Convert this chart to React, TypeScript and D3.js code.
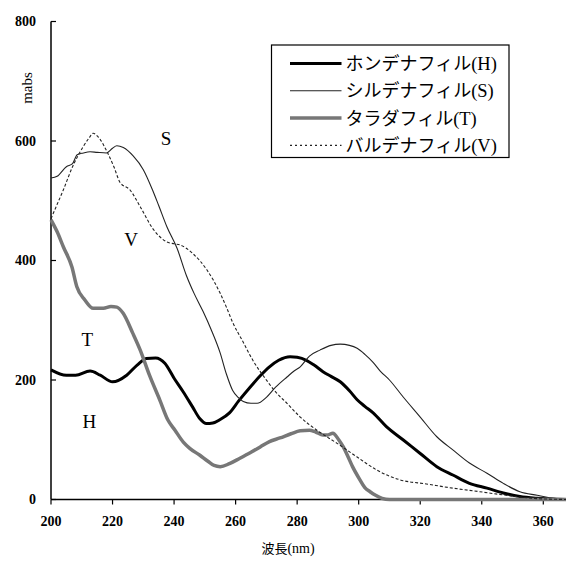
import React, { useRef, useEffect } from 'react';
import * as d3 from 'd3';

// wavelength (nm), absorbance (mabs) pairs
const HONDENAFIL: [number, number][] = [
  [200, 217], [205, 208], [208, 208], [212.7, 215], [216, 208], [220, 197], [224.6, 208],
  [228, 225], [231, 236], [234, 237], [237, 228], [240, 203], [243, 180], [246, 155],
  [248.4, 135], [250.5, 127], [252.6, 128], [255, 134], [258, 145], [261, 165], [264.7, 188],
  [268, 207], [271, 222], [274, 233], [277.7, 239], [280, 238], [283, 233], [285.5, 225],
  [288.4, 214], [291, 206], [294, 197], [297, 182], [299.5, 167], [302, 156], [304.7, 145],
  [309, 122], [314.4, 100], [320, 77], [325.4, 55], [330.6, 41], [336, 27], [341.7, 19],
  [347, 11], [352.4, 5], [358, 2], [367.5, 0],
];

const SILDENAFIL: [number, number][] = [
  [200, 538], [202, 541], [205, 557], [207, 562], [208.5, 577], [210.5, 580], [212.7, 582],
  [215, 581], [218, 580], [220, 588], [221.4, 592], [223.5, 589], [226.7, 575], [230, 552],
  [233, 518], [235, 492], [237.7, 456], [241, 420], [244, 375], [246.5, 345], [249.4, 315],
  [252, 285], [255, 245], [257, 210], [259, 183], [261, 170], [262.5, 164], [265, 161],
  [267, 161], [270, 171], [273, 188], [276.7, 205], [279, 215], [281, 222], [284, 240],
  [287.4, 250], [291, 258], [294, 260], [297, 258], [299.5, 253], [302, 243], [304.6, 230],
  [307, 215], [310, 200], [314.4, 172], [320, 138], [325.4, 105], [330.6, 83], [336, 61],
  [341.7, 44], [347, 27], [352.4, 13], [358, 7], [362, 3], [367.5, 1],
];

const TADALAFIL: [number, number][] = [
  [200, 468], [202, 448], [204, 423], [206.8, 389], [208.4, 356], [211, 334], [213.7, 320],
  [217, 320], [219.5, 323], [221.4, 322], [223.4, 312], [226.6, 278], [229, 250], [232, 208],
  [235.4, 166], [238, 133], [240.3, 116], [243, 96], [245, 86], [248.4, 74], [251, 64],
  [253, 57], [255, 55], [258, 60], [261.4, 69], [265, 79], [268, 88], [271, 97], [274.4, 103],
  [278, 110], [281, 115], [284, 116], [286, 113], [288.4, 108], [290, 108], [291.6, 111],
  [293.5, 100], [295, 88], [296.5, 72], [298, 55], [300.4, 33], [302, 20], [303.7, 13],
  [305.5, 7], [307.6, 2], [310, 0], [330, 0], [367.5, 0],
];

const VARDENAFIL: [number, number][] = [
  [200, 470], [202, 494], [204, 518], [207, 557], [210.4, 590], [212.5, 606], [213.7, 613],
  [215.3, 607], [218.5, 579], [220.5, 556], [222.4, 531], [225.7, 518], [229, 490],
  [233, 454], [237.7, 431], [240, 428], [242, 426], [246, 412], [250.7, 384], [253, 365],
  [255, 345], [257, 322], [259, 297], [262.4, 264], [265.6, 233], [270, 200], [273, 180],
  [276.7, 161], [281, 138], [286.4, 116], [293, 94], [299.5, 71], [306, 49], [313.4, 33],
  [322, 26], [330.6, 19], [339.4, 13], [348, 7], [356.6, 2], [367.5, 0],
];

const LEGEND_NAMES = ['ホンデナフィル', 'シルデナフィル', 'タラダフィル', 'バルデナフィル'];
const LEGEND_CODES = ['(H)', '(S)', '(T)', '(V)'];
const CURVE_LABELS = [
  { code: 'S', x: 237.4, y: 605 },
  { code: 'V', x: 226, y: 435 },
  { code: 'T', x: 211.8, y: 268 },
  { code: 'H', x: 212.5, y: 130 },
];
const X_TICKS = [200, 220, 240, 260, 280, 300, 320, 340, 360];
const Y_TICKS = [0, 200, 400, 600, 800];

const SERIES_STYLES = [
  { data: HONDENAFIL, stroke: '#000', width: 3, dash: null, legendDash: null },
  { data: SILDENAFIL, stroke: '#222', width: 1.1, dash: null, legendDash: null },
  { data: TADALAFIL, stroke: '#777', width: 3.5, dash: null, legendDash: null },
  { data: VARDENAFIL, stroke: '#222', width: 1.1, dash: '3,2', legendDash: '2,3' },
];

const SERIF = '"Liberation Serif", "DejaVu Serif", serif';
const GOTHIC = '"Noto Sans CJK JP", "Noto Sans", sans-serif';

export default function App() {
  const svgRef = useRef<SVGSVGElement>(null);
  const width = 566;
  const height = 567;

  useEffect(() => {
    const svg = d3.select(svgRef.current);
    svg.selectAll('*').remove();

    const x = d3.scaleLinear().domain([200, 360]).range([51, 543.3]);
    const y = d3.scaleLinear().domain([0, 800]).range([499.5, 21.5]);
    const xEnd = width;

    const line = d3.line<[number, number]>()
      .x(d => x(d[0]))
      .y(d => y(d[1]))
      .curve(d3.curveMonotoneX);

    // axes
    svg.append('line')
      .attr('x1', x(200)).attr('x2', xEnd)
      .attr('y1', y(0)).attr('y2', y(0))
      .attr('stroke', '#000').attr('stroke-width', 1.5);
    svg.append('line')
      .attr('x1', x(200)).attr('x2', x(200))
      .attr('y1', y(800)).attr('y2', y(0))
      .attr('stroke', '#000').attr('stroke-width', 1.5);

    svg.append('g')
      .selectAll('line')
      .data(X_TICKS)
      .join('line')
      .attr('x1', d => x(d)).attr('x2', d => x(d))
      .attr('y1', y(0)).attr('y2', y(0) + 5)
      .attr('stroke', '#000').attr('stroke-width', 1.2);
    svg.append('g')
      .selectAll('text')
      .data(X_TICKS)
      .join('text')
      .attr('x', d => x(d))
      .attr('y', y(0) + 26)
      .attr('text-anchor', 'middle')
      .attr('font-size', 14)
      .attr('font-weight', 600)
      .attr('font-family', SERIF)
      .text(d => d);

    svg.append('g')
      .selectAll('line')
      .data(Y_TICKS)
      .join('line')
      .attr('x1', x(200)).attr('x2', x(200) + 5)
      .attr('y1', d => y(d)).attr('y2', d => y(d))
      .attr('stroke', '#000').attr('stroke-width', 1.2);
    svg.append('g')
      .selectAll('text')
      .data(Y_TICKS)
      .join('text')
      .attr('x', 36)
      .attr('y', d => y(d))
      .attr('dy', '0.35em')
      .attr('text-anchor', 'end')
      .attr('font-size', 14)
      .attr('font-weight', 600)
      .attr('font-family', SERIF)
      .text(d => d);

    // axis titles
    svg.append('text')
      .attr('transform', 'translate(27,88) rotate(-90)')
      .attr('text-anchor', 'middle')
      .attr('dy', '0.35em')
      .attr('font-size', 15)
      .attr('font-family', SERIF)
      .text('mabs');
    const xt = svg.append('text')
      .attr('x', 288).attr('y', 553)
      .attr('text-anchor', 'middle')
      .attr('font-size', 13);
    xt.append('tspan').attr('font-family', GOTHIC).text('波長');
    xt.append('tspan').attr('font-family', SERIF).attr('font-size', 14).text('(nm)');

    // curves
    SERIES_STYLES.forEach(s => {
      svg.append('path')
        .datum(s.data)
        .attr('fill', 'none')
        .attr('stroke', s.stroke)
        .attr('stroke-width', s.width)
        .attr('stroke-dasharray', s.dash)
        .attr('stroke-linejoin', 'round')
        .attr('d', line);
    });

    // curve letters
    svg.append('g')
      .selectAll('text')
      .data(CURVE_LABELS)
      .join('text')
      .attr('x', d => x(d.x))
      .attr('y', d => y(d.y))
      .attr('dy', '0.35em')
      .attr('text-anchor', 'middle')
      .attr('font-size', 19)
      .attr('font-family', SERIF)
      .text(d => d.code);

    // legend
    const lg = svg.append('g').attr('transform', 'translate(271.5,45)');
    lg.append('rect')
      .attr('width', 237.5).attr('height', 112.5)
      .attr('fill', '#fff').attr('stroke', '#000').attr('stroke-width', 1.2);
    LEGEND_NAMES.forEach((name, i) => {
      const s = SERIES_STYLES[i];
      const ry = 18.5 + i * 27.3;
      lg.append('line')
        .attr('x1', 18.5).attr('x2', 70)
        .attr('y1', ry).attr('y2', ry)
        .attr('stroke', s.stroke)
        .attr('stroke-width', s.width)
        .attr('stroke-dasharray', s.legendDash);
      const t = lg.append('text')
        .attr('x', 74).attr('y', ry)
        .attr('dy', '0.36em')
        .attr('font-size', 18);
      t.append('tspan').attr('font-family', GOTHIC).text(name);
      t.append('tspan').attr('font-family', SERIF).attr('font-size', 18.5).text(LEGEND_CODES[i]);
    });
  }, []);

  return (
    <div style={{ position: 'absolute', left: 0, top: 0 }}>
      <svg
        ref={svgRef}
        width={width}
        height={height}
        viewBox={`0 0 ${width} ${height}`}
        style={{ display: 'block', background: '#fff' }}
      />
    </div>
  );
}
